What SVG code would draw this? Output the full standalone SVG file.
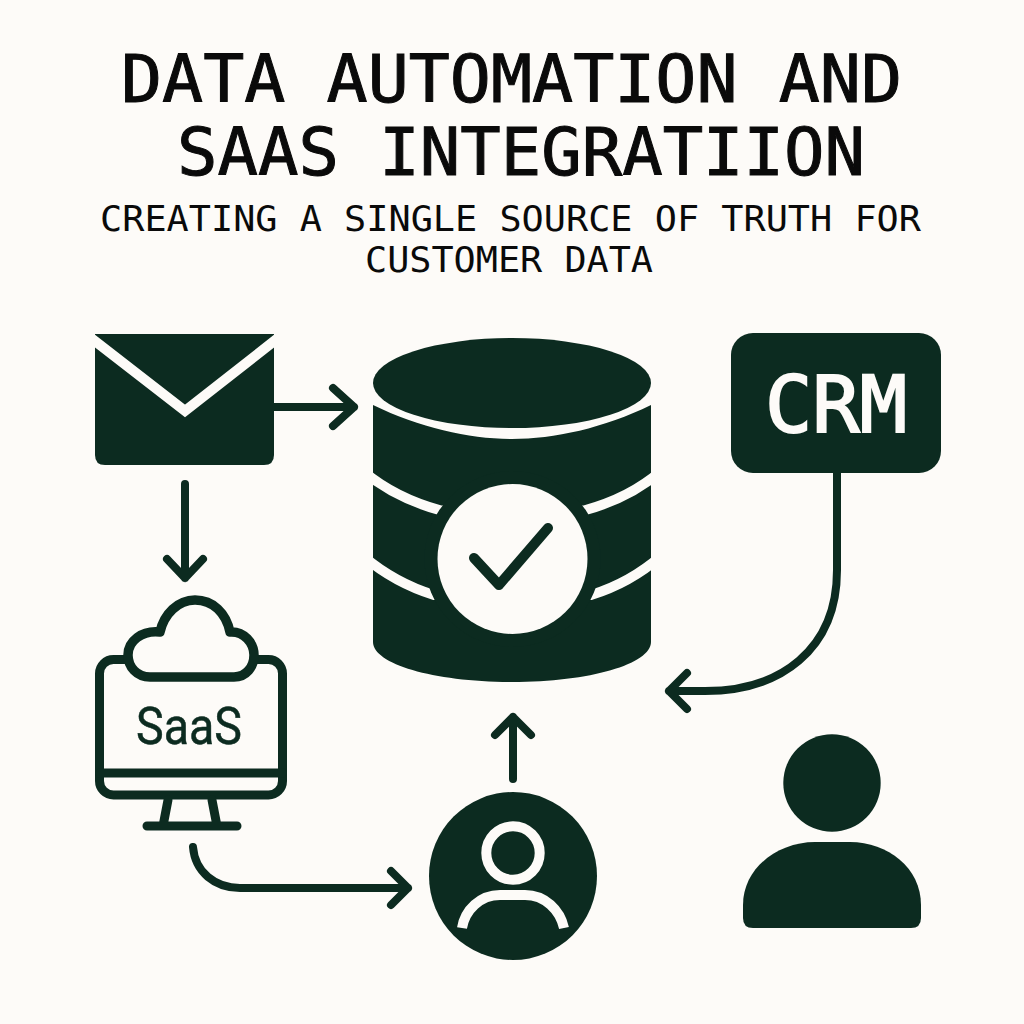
<svg xmlns="http://www.w3.org/2000/svg" width="1024" height="1024" viewBox="0 0 1024 1024">
<style>
.bg{fill:#fdfbf8}
.d{fill:#0c2b20}
.w{fill:#fdfbf8}
.title{font-family:"DejaVu Sans Mono","Liberation Mono",monospace;fill:#0a0a0a;stroke:#0a0a0a;stroke-width:1;font-size:66px}
.sub{font-family:"DejaVu Sans Mono","Liberation Mono",monospace;fill:#0a0a0a;font-size:36px}
.band{fill:none;stroke:#fdfbf8;stroke-width:10}
.line{fill:none;stroke:#0c2b20;stroke-width:8;stroke-linecap:round;stroke-linejoin:round}
.icon{fill:none;stroke:#0c2b20;stroke-width:9;stroke-linecap:round;stroke-linejoin:round}
</style>
<rect class="bg" width="1024" height="1024"/>
<g id="heading">
<text class="title" x="121" y="102" textLength="781" lengthAdjust="spacingAndGlyphs">DATA AUTOMATION AND</text>
<text class="title" x="177" y="175" textLength="688" lengthAdjust="spacingAndGlyphs">SAAS INTEGRATIION</text>
<text class="sub" x="100" y="231" textLength="821" lengthAdjust="spacingAndGlyphs">CREATING A SINGLE SOURCE OF TRUTH FOR</text>
<text class="sub" x="365" y="272" textLength="288" lengthAdjust="spacingAndGlyphs">CUSTOMER DATA</text>
</g>
<g id="connectors">
<path class="line" d="M272 407H354M333 388L354 407L333 426"/>
<path class="line" d="M185 484V578M167 559L185 578L203 559"/>
<path class="line" d="M193 847C195 872 215 888 240 888H408M391 871L408 888L391 905"/>
<path class="line" d="M513 779V717M495 735L513 717L531 735"/>
<path class="line" d="M837 470V570C837 650 780 691 705 691H669M687 673L669 691L687 709"/>
</g>
<g id="email">
<path class="d" d="M95 334H274V455Q274 465 264 465H105Q95 465 95 455Z"/>
<path d="M91 338L185 411L278 338" fill="none" stroke="#fdfbf8" stroke-width="10"/>
</g>
<g id="database">
<path class="d" d="M373 405C420 428 470 439 512 439C554 439 604 428 651 405V642C651 664 590 682 512 682C434 682 373 664 373 642Z"/>
<ellipse class="d" cx="512" cy="383" rx="139" ry="45"/>
<path class="band" d="M363 471Q395 498 441 510.500L584 510.500Q630 498 661 471"/>
<path class="band" d="M363 556Q395 583 434 595L591 595Q630 583 661 556"/>
<path d="M360 440V610M664 440V610" fill="none" stroke="#fdfbf8" stroke-width="26"/>
<circle class="d" cx="512.500" cy="559" r="88"/>
<circle class="w" cx="512.500" cy="559" r="75"/>
<path d="M474 558L499 585L548 528" fill="none" stroke="#0c2b20" stroke-width="10" stroke-linecap="round" stroke-linejoin="round"/>
</g>
<g id="crm">
<rect class="d" x="731" y="333" width="210" height="140" rx="22"/>
<text x="765" y="432" font-family="'DejaVu Sans Mono',monospace" font-size="78" fill="#fdfbf8" stroke="#fdfbf8" stroke-width="2" textLength="142" lengthAdjust="spacingAndGlyphs">CRM</text>
</g>
<g id="saas">
<rect class="icon" x="99.500" y="659.500" width="183" height="135.500" rx="14"/>
<path class="icon" d="M99.500 773H282.500"/>
<path class="icon" d="M168 800L163 826M212 800L217 826M147 826H237"/>
<path d="M150 677C137 677 128 667 128 655C128 641 142 630 160 632C164 614 178 600 195 600C213 600 226 613 230 632C244 631 254 643 254 655C254 667 246 677 234 677Z" fill="#fdfbf8" stroke="#0c2b20" stroke-width="9.500" stroke-linejoin="round"/>
<text x="136" y="744" font-family="Roboto,'Liberation Sans',sans-serif" font-size="52" fill="#0c2b20" stroke="#0c2b20" stroke-width="0.500" textLength="106" lengthAdjust="spacingAndGlyphs">SaaS</text>
</g>
<g id="user-badge">
<circle class="d" cx="513" cy="876" r="84"/>
<circle cx="513" cy="853" r="26.700" fill="none" stroke="#fdfbf8" stroke-width="10"/>
<path class="band" d="M462 928C465 910 480 895 500 895H525C545 895 560 910 564 928"/>
</g>
<g id="person">
<circle class="d" cx="832" cy="783" r="48.700"/>
<path class="d" d="M743 905C743 868 778 842 815 842H850C888 842 921 868 921 905V918Q921 928 911 928H753Q743 928 743 918Z"/>
</g>
</svg>
